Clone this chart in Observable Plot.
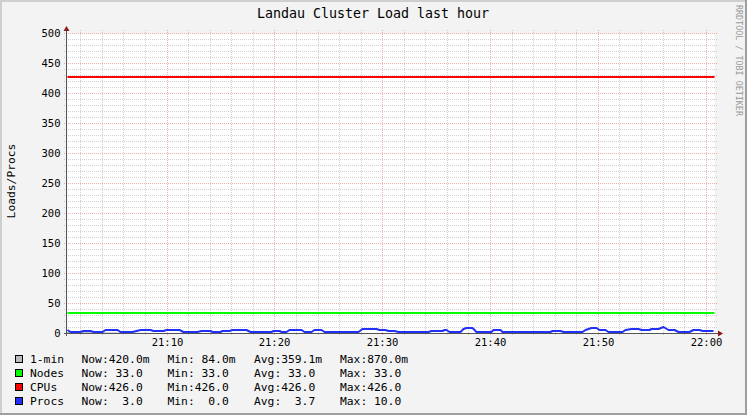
<!DOCTYPE html>
<html><head><meta charset="utf-8">
<script src="https://cdn.jsdelivr.net/npm/d3@7"></script>
<script src="https://cdn.jsdelivr.net/npm/@observablehq/plot@0.6"></script>
<style>
html,body{margin:0;padding:0;background:#f3f3f3;}
#chart{position:relative;width:747px;height:415px;}
svg text{white-space:pre;}
</style></head><body><div id="chart"></div>
<script>
// ---- data ----
const DAY = "2024-01-01";
const windowStart = "21:00:46";
const windowEnd = "22:00:46";

const procTimes = [
  "21:00:46","21:01:03","21:01:58","21:02:15","21:02:54","21:03:11","21:04:01","21:04:17",
  "21:05:24","21:05:41","21:06:47","21:07:32","21:08:27","21:08:44","21:09:40","21:09:56",
  "21:11:08","21:11:31","21:12:48","21:13:11","21:14:01","21:14:12","21:14:56","21:15:07",
  "21:15:46","21:16:03","21:17:21","21:17:43","21:19:40","21:19:51","21:20:24","21:20:35",
  "21:21:03","21:21:20","21:22:26","21:22:43","21:23:22","21:23:38","21:24:17","21:24:34",
  "21:25:07","21:27:43","21:28:05","21:29:28","21:29:40","21:30:18","21:30:30","21:31:08",
  "21:31:25","21:34:17","21:34:34","21:35:30","21:35:41","21:35:57","21:36:14","21:37:10",
  "21:37:32","21:37:48","21:38:22","21:38:44","21:40:07","21:40:18","21:40:57","21:41:08",
  "21:41:42","21:41:58","21:43:33","21:43:50","21:45:35","21:45:46","21:46:31","21:46:47",
  "21:48:33","21:48:50","21:49:23","21:49:51","21:50:07","21:50:41","21:50:57","21:52:15",
  "21:52:32","21:53:05","21:53:44","21:54:01","21:54:45","21:54:56","21:55:35","21:56:03",
  "21:56:31","21:57:04","21:57:26","21:58:27","21:58:50","21:59:23","21:59:40","22:00:41"
];
const procValues = [
  5.8,2,2,3.5,3.5,1.4,1.4,5.3,
  5.3,2,2,4.7,4.7,3,3,5.3,
  5.3,2,2,3.6,3.6,2.5,2.5,3.6,
  3.6,5.8,5.8,2,2,3,3,2,
  2,4.2,4.2,2,2,4.2,4.2,2,
  1.4,1.4,6.4,6.4,4.7,4.7,3.6,3.6,
  2,2,3,3,4.7,4.7,2.5,2.5,
  6,8,8,2.5,2.5,4.7,4.7,2.5,
  2.5,2,2,2.5,2.5,3.6,3.6,2.5,
  2.5,4.7,8,8,4.7,4.7,2.5,2.5,
  5.3,7.5,7.5,5.3,5.3,6.9,6.9,10,
  5.8,5.8,2.5,2.5,4.2,4.2,3,3
];

const cpuTimes = ["21:00:46", "22:00:46"];
const cpuValues = [426, 426];
const nodeTimes = ["21:00:46", "22:00:46"];
const nodeValues = [33, 33];
const loadTimes = ["21:00:46","21:10:00","21:20:00","21:30:00","21:40:00","21:50:00","22:00:46"];
const loadValues = [0.87, 0.2, 0.35, 0.084, 0.5, 0.3, 0.42];

const yTicks = [0, 50, 100, 150, 200, 250, 300, 350, 400, 450, 500];
const xTickLabels = ["21:10", "21:20", "21:30", "21:40", "21:50", "22:00"];

const legendNames  = ["1-min", "Nodes", "CPUs", "Procs"];
const legendColors = ["#BBBBBB", "#00FF00", "#FF0000", "#2030F4"];
const legendNow = ["420.0m", " 33.0", "426.0", "  3.0"];
const legendMin = [" 84.0m", " 33.0", "426.0", "  0.0"];
const legendAvg = ["359.1m", " 33.0", "426.0", "  3.7"];
const legendMax = ["870.0m", " 33.0", "426.0", " 10.0"];

// ---- build ----
const T = s => new Date(`${DAY}T${s}Z`);
const x0 = T(windowStart), x1 = T(windowEnd);
const toRows = (ts, vs) => ts.map((t, i) => ({t: T(t), v: vs[i]}));
const procData = toRows(procTimes, procValues);
const cpuData = toRows(cpuTimes, cpuValues);
const nodeData = toRows(nodeTimes, nodeValues);
const loadData = toRows(loadTimes, loadValues);

const majorX = xTickLabels.map(s => T(s + ":00"));
const minorX = d3.utcMinute.every(2).range(x0, x1).filter(d => d.getUTCMinutes() % 10 !== 0);
const minorY = d3.range(10, 501, 10).filter(v => v % 50 !== 0);
const majorY = yTicks.filter(v => v > 0);

const MONO = "'DejaVu Sans Mono', monospace";
const gridMinor = {stroke: "#8F8F8F", strokeOpacity: 0.4, strokeDasharray: "1,1"};
const gridMajor = {stroke: "#DE5050", strokeOpacity: 0.45, strokeDasharray: "1,1"};
const lineStyle = {x: "t", y: "v", strokeWidth: 2, strokeLinecap: "butt", dy: -0.5};

const chart = Plot.plot({
  width: 747, height: 415,
  marginLeft: 67, marginRight: 33, marginTop: 33, marginBottom: 82,
  style: {background: "#f3f3f3", fontFamily: MONO, fontSize: "10.5px", color: "#000", overflow: "visible"},
  x: {type: "utc", domain: [x0, x1], round: true},
  y: {domain: [0, 500], round: true},
  marks: [
    Plot.frame({fill: "white", stroke: null}),
    Plot.ruleY(minorY, {...gridMinor, insetLeft: -3, insetRight: -4}),
    Plot.ruleX(minorX, {...gridMinor, insetTop: -3, insetBottom: -3}),
    Plot.ruleY(majorY, {...gridMajor, insetLeft: -3, insetRight: -4}),
    Plot.ruleX(majorX, {...gridMajor, insetTop: -3, insetBottom: -3}),
    Plot.areaY(loadData, {x: "t", y: "v", fill: "#BBBBBB"}),
    Plot.lineY(nodeData, {...lineStyle, stroke: "#00FF00"}),
    Plot.lineY(cpuData, {...lineStyle, stroke: "#FF0000"}),
    Plot.ruleY([0], {stroke: "#555555", insetLeft: -3, insetRight: -4}),
    Plot.ruleX([x0], {stroke: "#555555", insetTop: -3, insetBottom: -3, dx: -1}),
    Plot.lineY(procData, {...lineStyle, stroke: "#2030F4", strokeLinejoin: "miter"}),
    Plot.axisY(yTicks, {tickSize: 0, tickPadding: 7, label: null, fill: "#000"}),
    Plot.axisX(majorX, {tickSize: 0, tickPadding: 5, label: null, tickFormat: d3.utcFormat("%H:%M"), fill: "#000"})
  ]
});

document.getElementById("chart").appendChild(chart);

// ---- decorations: borders, arrows, title, labels, legend ----
const svg = d3.select(chart);
const deco = svg.append("g").attr("text-anchor", "start");
deco.append("rect").attr("x", 0).attr("y", 0).attr("width", 747).attr("height", 2).attr("fill", "#cfcfcf");
deco.append("rect").attr("x", 0).attr("y", 0).attr("width", 2).attr("height", 415).attr("fill", "#cfcfcf");
deco.append("rect").attr("x", 0).attr("y", 413).attr("width", 747).attr("height", 2).attr("fill", "#9e9e9e");
deco.append("rect").attr("x", 745).attr("y", 0).attr("width", 2).attr("height", 415).attr("fill", "#9e9e9e");

const xs = chart.scale("x"), ys = chart.scale("y");
const ax = xs.apply(x0) - 0.5, ay = ys.apply(0) + 0.5, topY = ys.apply(500), rightX = xs.apply(x1);
deco.append("polygon").attr("points", `${ax - 3},${topY - 2} ${ax + 3},${topY - 2} ${ax},${topY - 7}`).attr("fill", "#8b1a1a");
deco.append("polygon").attr("points", `${rightX + 4},${ay - 3} ${rightX + 4},${ay + 3} ${rightX + 9},${ay}`).attr("fill", "#8b1a1a");

deco.append("text").attr("x", 373).attr("y", 18).attr("text-anchor", "middle")
  .style("font-family", MONO).style("font-size", "13.3px").attr("fill", "#000")
  .text("Landau Cluster Load last hour");

deco.append("text").attr("transform", "translate(15,181) rotate(-90)").attr("text-anchor", "middle")
  .style("font-family", MONO).style("font-size", "11.3px").attr("fill", "#000")
  .text("Loads/Procs");

deco.append("text").attr("transform", "translate(736,5) rotate(90)").attr("text-anchor", "start")
  .style("font-family", MONO).style("font-size", "8.4px").attr("fill", "#9a9a9a")
  .text("RRDTOOL / TOBI OETIKER");

const lg = deco.append("g").attr("text-anchor", "start")
  .style("font-family", MONO).style("font-size", "11.3px").attr("fill", "#000");
legendNames.forEach((name, i) => {
  const base = 363 + i * 14;
  lg.append("rect").attr("x", 15.5).attr("y", base - 7.5).attr("width", 7).attr("height", 7)
    .attr("fill", legendColors[i]).attr("stroke", "#000").attr("stroke-width", 1);
  lg.append("text").attr("x", 30).attr("y", base).attr("text-anchor", "start").text(name);
  lg.append("text").attr("x", 81.5).attr("y", base).attr("text-anchor", "start").text("Now:" + legendNow[i]);
  lg.append("text").attr("x", 167.5).attr("y", base).attr("text-anchor", "start").text("Min:" + legendMin[i]);
  lg.append("text").attr("x", 254).attr("y", base).attr("text-anchor", "start").text("Avg:" + legendAvg[i]);
  lg.append("text").attr("x", 340).attr("y", base).attr("text-anchor", "start").text("Max:" + legendMax[i]);
});
</script>
</body></html>
